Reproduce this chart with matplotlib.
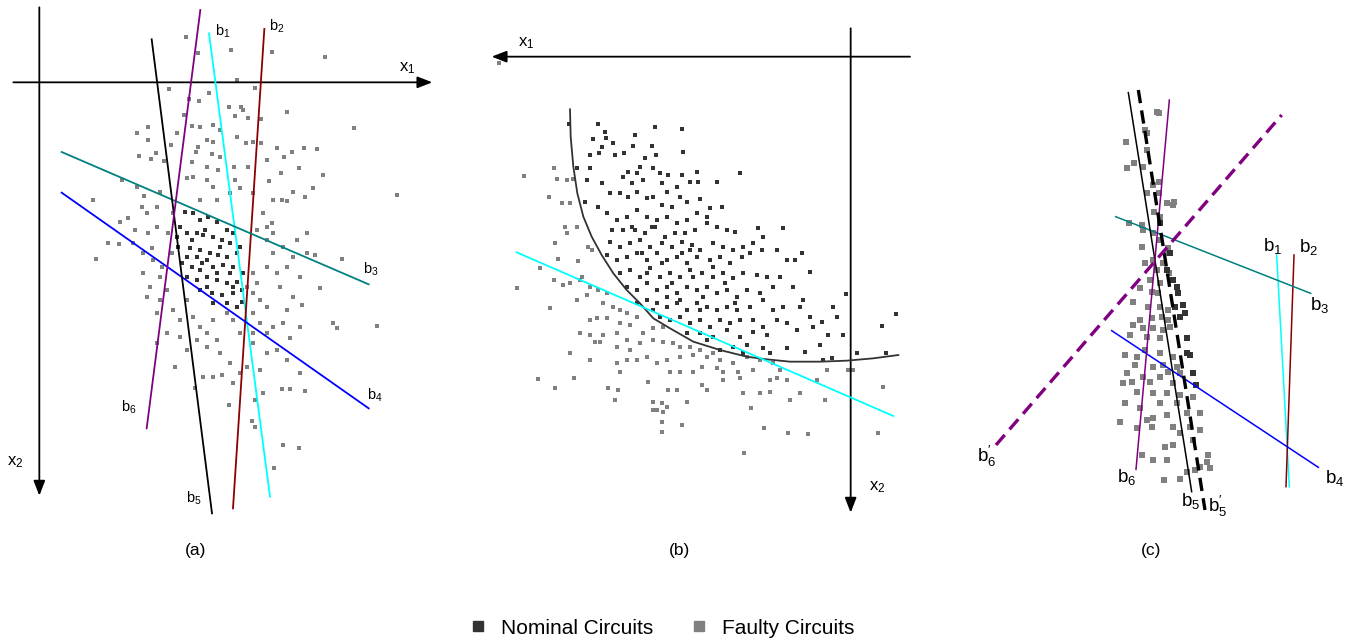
import matplotlib.pyplot as plt

plt.rcParams['font.family'] = ['Liberation Sans', 'DejaVu Sans']
plt.rcParams['mathtext.fontset'] = 'custom'
plt.rcParams['mathtext.rm'] = 'Liberation Sans'
plt.rcParams['mathtext.it'] = 'Liberation Sans'

NOM = '#333333'
FAU = '#808080'

# ---- panel (a) : points in panel units (3 units per pixel) ----
a_faulty = [(557,112),(594,160),(692,150),(817,157),(975,170),(710,240),(766,263),(506,267),(596,302),(627,280),
    (566,298),(688,322),(722,320),(730,330),(862,336),(782,358),(745,353),(705,348),(551,346),(1062,385),
    (445,381),(411,400),(600,380),(575,378),(640,375),(660,390),(710,410),(530,400),(444,420),(512,435),
    (595,440),(622,420),(640,425),(738,428),(760,426),(782,428),(830,444),(875,455),(912,445),(952,446),
    (852,470),(896,505),(800,480),(745,500),(702,500),(660,470),(635,463),(588,455),(468,460),(416,467),
    (452,478),(492,483),(575,487),(620,500),(655,510),(705,540),(806,542),(843,518),(968,526),(940,563),
    (880,577),(845,600),(862,604),(820,600),(915,590),(1190,586),(280,600),(365,540),(410,560),(432,588),
    (425,620),(470,620),(442,640),(480,575),(560,535),(580,530),(620,540),(640,560),(600,600),(650,600),
    (690,580),(720,565),(760,580),(790,640),(815,670),(820,700),(800,720),(770,690),(360,665),(385,655),
    (405,690),(445,700),(470,680),(325,730),(358,733),(400,730),(288,776),(430,760),(460,780),(485,800),
    (480,830),(450,860),(440,890),(480,900),(500,870),(520,930),(540,960),(560,900),(580,950),(600,980),
    (640,960),(680,940),(700,960),(720,1000),(760,940),(780,970),(800,1000),(820,980),(850,970),(900,980),
    (1000,968),(1012,985),(1130,977),(760,1030),(800,1060),(830,1050),(870,1015),(860,1080),(900,1120),(780,1110),
    (740,1100),(720,1120),(690,1090),(660,1060),(620,1040),(590,1020),(560,1050),(525,1100),(610,1130),(640,1130),
    (665,1125),(700,1150),(790,1180),(765,1200),(845,1168),(870,1168),(915,1172),(688,1215),(755,1263),(765,1280),
    (848,1336),(898,1345),(822,1405),(585,1165),(470,1030),(800,800),(830,820),(860,800),(900,830),(840,860),
    (880,890),(905,915),(860,930),(880,770),(920,760),(945,765),(1025,776),(960,865),(770,850),(780,900),
    (800,920),(760,880),(820,760),(850,740),(890,720),(920,700),(800,680),(520,640),(505,700),(515,760),
    (455,745),(430,820),(470,940),(500,1000),(540,1010),(620,1000),(650,1020),(760,1000),(740,860),(760,820)]
a_nominal = [(555,635),(580,640),(600,660),(625,650),(650,665),(680,690),(700,700),(540,680),(560,700),(590,700),
    (610,705),(640,710),(665,720),(690,730),(720,740),(535,740),(570,745),(600,750),(630,760),(655,765),
    (680,770),(710,760),(545,790),(575,800),(605,790),(640,800),(670,795),(700,800),(560,830),(590,840),
    (620,830),(650,840),(680,850),(710,845),(600,870),(635,880),(665,885),(700,880),(725,870),(640,910),
    (680,910),(710,920),(725,905),(615,690),(590,770),(660,740),(620,780),(650,820),(690,820),(575,720),
    (530,710),(620,860),(700,860),(560,770),(730,820),(600,810)]
a_lines = {  # name: (x0, y0, x1, y1, colour)
    'b1': (627,100,810,1490,'cyan'),
    'b2': (793,87,699,1525,'#8b0000'),
    'b3': (185,456,1106,853,'#008080'),
    'b4': (185,578,1106,1225,'#0000ff'),
    'b5': (455,118,636,1540,'black'),
    'b6': (601,30,440,1285,'#800080'),
}
a_labels = {'b1': (645,95),'b2': (808,80),'b3': (1090,808),'b4': (1100,1185),'b5': (558,1495),'b6': (362,1222)}

# ---- panel (b) ----
b_nominal = [(267,313),(355,313),(525,320),(605,327),(375,335),(340,358),(378,355),(400,370),(465,345),(460,378),
    (365,380),(330,405),(357,400),(405,405),(433,400),(495,415),(528,405),(517,378),(610,395),(290,445),
    (330,445),(480,440),(520,445),(445,455),(470,460),(540,460),(565,465),(605,465),(650,455),(780,460),
    (320,480),(365,490),(430,470),(455,490),(490,480),(545,490),(590,500),(630,485),(655,485),(712,485),
    (315,545),(355,560),(390,520),(420,520),(445,530),(470,515),(500,535),(520,530),(560,515),(600,530),
    (545,555),(575,560),(620,545),(660,538),(690,565),(725,560),(380,580),(410,600),(440,590),(470,570),
    (500,590),(530,600),(560,590),(590,610),(620,600),(650,580),(680,590),(710,620),(740,630),(765,635),
    (835,625),(910,625),(395,630),(430,630),(465,630),(495,640),(525,620),(555,650),(585,640),(615,640),
    (645,630),(680,610),(390,665),(420,680),(450,670),(480,660),(510,680),(545,670),(575,680),(605,665),
    (635,675),(660,690),(700,670),(730,680),(760,690),(790,680),(820,670),(850,650),(380,705),(410,720),
    (440,710),(470,700),(500,720),(530,700),(560,720),(590,710),(620,730),(650,710),(690,720),(720,710),
    (750,730),(785,710),(810,700),(845,690),(890,690),(920,720),(945,720),(965,700),(420,760),(450,750),
    (480,770),(510,745),(540,770),(570,760),(600,770),(630,750),(665,760),(700,770),(730,760),(760,775),
    (790,760),(830,765),(860,770),(900,770),(990,755),(440,800),(470,810),(500,790),(530,810),(560,800),
    (590,820),(620,800),(650,810),(680,800),(710,820),(740,810),(770,830),(800,810),(840,820),(880,800),
    (940,800),(970,840),(1098,823),(470,850),(500,840),(530,850),(560,860),(590,850),(620,870),(650,850),
    (680,860),(710,870),(740,860),(770,870),(810,860),(850,840),(880,870),(910,860),(960,860),(1060,860),
    (1248,882),(540,890),(570,900),(600,890),(630,910),(660,900),(690,920),(720,900),(750,910),(780,900),
    (820,900),(850,920),(890,900),(920,910),(990,890),(1025,905),(1070,890),(620,940),(660,940),(700,950),
    (740,930),(780,950),(820,935),(860,945),(950,930),(1000,920),(1045,945),(1090,945),(1205,918),(720,990),
    (760,980),(800,975),(850,985),(870,1000),(920,985),(975,995),(1020,975),(1030,1020),(1055,1015),(1130,1000),
    (1217,1000),(680,960),(790,1000),(455,620),(485,700),(515,620),(545,730),(575,790),(605,700),(640,770),
    (670,830),(700,740),(735,790),(765,850),(600,840),(660,870),(520,870),(560,830),(630,690),(500,760)]
b_faulty = [(57,128),(133,468),(222,445),(230,477),(260,480),(280,478),(207,530),(245,550),(270,550),(255,620),
    (290,620),(260,640),(225,668),(325,680),(335,690),(233,718),(293,723),(180,745),(222,780),(250,795),
    (270,790),(300,780),(305,770),(110,805),(330,800),(355,810),(380,820),(290,840),(320,825),(370,850),
    (210,865),(400,860),(420,870),(440,880),(380,895),(350,895),(330,900),(420,910),(450,915),(470,890),
    (300,940),(330,945),(370,945),(410,940),(440,960),(490,940),(520,925),(550,920),(345,965),(360,965),
    (410,980),(450,990),(480,970),(520,960),(550,965),(580,970),(600,980),(630,980),(660,990),(700,1000),
    (270,1000),(330,1020),(410,1030),(440,1020),(470,1020),(500,1010),(530,1030),(560,1020),(600,1010),(640,1005),
    (680,1010),(720,1020),(760,1030),(800,1010),(840,1020),(880,1030),(900,1050),(420,1055),(570,1055),(600,1055),
    (640,1055),(665,1040),(710,1045),(730,1055),(775,1055),(820,1050),(870,1080),(890,1075),(920,1080),(1010,1080),
    (1040,1050),(1105,1050),(1120,1050),(173,1077),(283,1075),(225,1105),(385,1105),(415,1110),(505,1085),(565,1110),
    (590,1110),(665,1095),(680,1110),(730,1080),(780,1075),(790,1120),(840,1120),(870,1117),(930,1140),(960,1120),
    (1035,1140),(1210,1100),(405,1140),(520,1145),(530,1170),(545,1150),(560,1160),(620,1145),(545,1205),(607,1215),
    (520,1170),(550,1175),(812,1165),(852,1225),(925,1238),(985,1243),(1193,1238),(545,1235),(793,1298)]
b_curve_x = [270,272,280,292,310,335,365,400,440,480,520,570,640,720,800,860,930,1020,1100,1180,1255]
b_curve_y = [268,350,440,520,590,650,705,760,810,850,895,925,965,990,1010,1018,1025,1025,1022,1015,1005]
b_cyan = (110,697,1240,1188)

# ---- panel (c) ----
c_faulty = [(590,97),(597,98),(555,150),(560,160),(498,185),(562,210),(522,248),(500,265),(548,260),(598,305),
    (578,315),(597,340),(560,340),(620,370),(640,375),(643,367),(582,395),(600,410),(508,430),(545,435),
    (548,450),(580,460),(600,480),(545,500),(625,505),(620,520),(555,548),(580,540),(610,550),(590,570),
    (628,580),(570,600),(600,610),(540,625),(575,635),(595,640),(520,665),(565,680),(600,680),(625,690),
    (540,720),(575,715),(605,710),(625,720),(520,735),(550,745),(580,745),(610,750),(630,740),(510,765),
    (560,770),(600,775),(495,825),(530,830),(555,810),(600,820),(640,830),(525,855),(580,860),(610,855),
    (650,860),(500,880),(550,890),(600,890),(625,875),(660,880),(700,880),(515,905),(570,905),(640,910),
    (490,910),(530,935),(580,940),(620,940),(660,945),(700,950),(540,985),(600,970),(650,970),(495,970),
    (560,1020),(580,1015),(620,1005),(680,1000),(720,1000),(480,1025),(530,1045),(575,1040),(640,1040),(690,1040),
    (720,1050),(660,1060),(615,1100),(640,1095),(700,1080),(745,1125),(740,1145),(720,1160),(750,1165),(580,1140),
    (545,1125),(620,1140),(613,1200),(660,1198),(680,1175),(705,1170)]
c_nominal = [(600,430),(630,520),(620,570),(640,600),(650,620),(655,640),(670,675),(675,700),(660,710),(680,820),
    (690,825),(700,880),(708,915),(680,775),(645,680)]
c_lines = {
    'b1': (950,525,988,1220,'cyan','-'),
    'b2': (1002,525,978,1220,'#8b0000','-'),
    'b3': (467,410,1052,640,'#008080','-'),
    'b4': (455,752,1075,1162,'#0000ff','-'),
    'b5': (505,38,695,1235,'black','-'),
    'b6': (628,60,528,1168,'#800080','-'),
    "b5'": (535,30,735,1290,'black','--'),
    "b6'": (108,1095,965,105,'#800080','--'),
}
c_labels = {'b1': (908,497),'b2': (1018,500),'b3': (1050,675),'b4': (1095,1195),'b5': (663,1262),
            'b6': (472,1190),"b5'": (745,1280),"b6'": (50,1130)}

W, H = 1357, 642
fig = plt.figure(figsize=(W/100, H/100), dpi=100)


def panel(x0, y0, w, h):
    ax = fig.add_axes([x0/W, 1-(y0+h)/H, w/W, h/H])
    ax.set_xlim(0, 3*w)
    ax.set_ylim(3*h, 0)
    ax.axis('off')
    ax.patch.set_alpha(0)
    return ax


def arrow(ax, x0, y0, x1, y1):
    ax.annotate('', xy=(x1, y1), xytext=(x0, y0),
                arrowprops=dict(arrowstyle='-|>,head_length=0.9,head_width=0.35', color='black',
                                lw=1.3, shrinkA=0, shrinkB=0))


def blabel(name):
    if name.endswith("'"):
        return r'b$_{%s}^{\prime}$' % name[1]
    return r'b$_{%s}$' % name[1]


def pts(ax, p, c, s):
    ax.scatter([q[0] for q in p], [q[1] for q in p], s=s, c=c, marker='s', linewidths=0, zorder=1)


# (a)
ax = panel(0, 0, 450, 520)
pts(ax, a_faulty, FAU, 7)
pts(ax, a_nominal, NOM, 9)
arrow(ax, 118, 22, 118, 1487)
arrow(ax, 40, 247, 1297, 247)
for k, (x0, y0, x1, y1, col) in a_lines.items():
    ax.plot([x0, x1], [y0, y1], color=col, lw=1.3, zorder=3)
    ax.text(*a_labels[k], blabel(k), fontsize=10.5, ha='left', va='center')
ax.text(1197, 205, r'x$_1$', fontsize=12, ha='left', va='center')
ax.text(22, 1385, r'x$_2$', fontsize=12, ha='left', va='center')

# (b)
ax = panel(480, 20, 440, 500)
pts(ax, b_faulty, FAU, 9)
pts(ax, b_nominal, NOM, 10)
arrow(ax, 1290, 110, 35, 110)
arrow(ax, 1112, 25, 1112, 1478)
ax.plot(b_curve_x, b_curve_y, color='#333333', lw=1.3, zorder=3)
ax.plot([b_cyan[0], b_cyan[2]], [b_cyan[1], b_cyan[3]], color='cyan', lw=1.3, zorder=3)
ax.text(115, 70, r'x$_1$', fontsize=12, ha='left', va='center')
ax.text(1168, 1400, r'x$_2$', fontsize=12, ha='left', va='center')

# (c)
ax = panel(960, 80, 380, 450)
pts(ax, c_faulty, FAU, 14)
pts(ax, c_nominal, NOM, 14)
for k, (x0, y0, x1, y1, col, ls) in c_lines.items():
    if ls == '--':
        ax.plot([x0, x1], [y0, y1], color=col, lw=2.4, ls=(0, (4, 2.2)), zorder=3)
    else:
        ax.plot([x0, x1], [y0, y1], color=col, lw=1.1, zorder=3)
    ax.text(*c_labels[k], blabel(k), fontsize=13.5, ha='left', va='center')

for lab, xc in [('(a)', 196), ('(b)', 680), ('(c)', 1151)]:
    fig.text(xc/W, 1-551/H, lab, fontsize=12.5, ha='center', va='center')

h1 = plt.Line2D([], [], ls='', marker='s', ms=6.5, color=NOM)
h2 = plt.Line2D([], [], ls='', marker='s', ms=6.5, color=FAU)
fig.legend([h1, h2], ['Nominal Circuits', 'Faulty Circuits'], ncol=2, frameon=False,
           loc='center', bbox_to_anchor=(661/W, 1-628/H), fontsize=15,
           handlelength=1.0, handletextpad=0.6, columnspacing=1.7)

fig.savefig('out.png', dpi=100)
